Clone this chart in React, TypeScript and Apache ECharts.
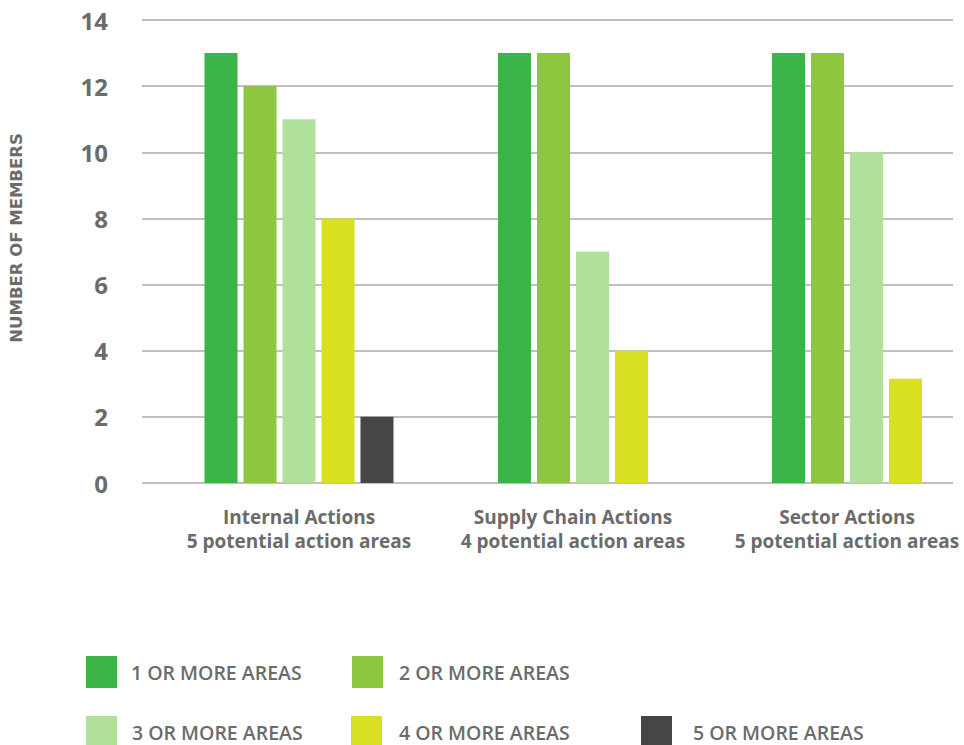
import React, { useEffect, useRef } from "react";
import * as echarts from "echarts";

const categories = ["Internal Actions", "Supply Chain Actions", "Sector Actions"];
const subtitles = ["5 potential action areas", "4 potential action areas", "5 potential action areas"];
const seriesNames = [
  "1 OR MORE AREAS",
  "2 OR MORE AREAS",
  "3 OR MORE AREAS",
  "4 OR MORE AREAS",
  "5 OR MORE AREAS",
];
const oneOrMore = [13, 13, 13];
const twoOrMore = [12, 13, 13];
const threeOrMore = [11, 7, 10];
const fourOrMore = [8, 4, 3.15];
const fiveOrMore: (number | null)[] = [2, null, null];
const yTicks = [0, 2, 4, 6, 8, 10, 12, 14];

const colors = ["#3bb44a", "#8dc63f", "#b0e19c", "#d9e021", "#464646"];
const allSeries = [oneOrMore, twoOrMore, threeOrMore, fourOrMore, fiveOrMore];

export default function App() {
  const ref = useRef<HTMLDivElement>(null);
  useEffect(() => {
    if (!ref.current) return;
    const chart = echarts.init(ref.current, null, { renderer: "svg" });
    const groupCounts = categories.map((_, ci) =>
      allSeries.filter((s) => s[ci] != null).length
    );
    const slotIndex = (si: number, ci: number) =>
      allSeries.slice(0, si).filter((s) => s[ci] != null).length;

    const legendPos = [
      { left: 86, top: 656, pad: 9 },
      { left: 352, top: 656, pad: 11 },
      { left: 86, top: 716, pad: 10 },
      { left: 351, top: 716, pad: 12 },
      { left: 641, top: 716, pad: 16 },
    ];

    const font = "'Open Sans', 'Liberation Sans', sans-serif";

    chart.setOption({
      animation: false,
      textStyle: { fontFamily: font },
      grid: [
        { left: 139, top: 20, width: 814, height: 463 },
        { left: 299, top: 20, width: 548, height: 463 },
      ],
      xAxis: [
        { gridIndex: 0, type: "value", show: false, min: 0, max: 1 },
        {
          gridIndex: 1,
          type: "category",
          boundaryGap: false,
          data: categories.map((c, i) => c + "\n" + subtitles[i]),
          axisLine: { show: false },
          axisTick: { show: false },
          splitLine: { show: false },
          axisLabel: {
            interval: 0,
            hideOverlap: false,
            margin: 22,
            color: "#6b6b6b",
            fontSize: 19,
            fontWeight: "bold",
            lineHeight: 24,
            fontFamily: font,
          },
        },
      ],
      yAxis: [
        {
          gridIndex: 0,
          type: "value",
          min: 0,
          max: 14,
          interval: 2,
          name: "NUMBER OF MEMBERS",
          nameLocation: "middle",
          nameGap: 117,
          nameTextStyle: {
            color: "#6b6b6b",
            fontSize: 16.5,
            fontWeight: "bold",
            fontFamily: "'DejaVu Sans', sans-serif",
            padding: [0, 0, 0, 27],
          },
          axisLine: { show: false },
          axisTick: { show: false },
          axisLabel: {
            margin: 34,
            color: "#6b6b6b",
            fontSize: 24,
            fontWeight: "bold",
            fontFamily: font,
            padding: [5, 0, 0, 0],
            formatter: (v: number) => (yTicks.includes(v) ? String(v) : ""),
          },
          splitLine: { lineStyle: { color: "#ababab", width: 1.5 } },
        },
        { gridIndex: 1, type: "value", min: 0, max: 14, interval: 2, show: false, splitLine: { show: false } },
      ],
      legend: seriesNames.map((name, i) => ({
        data: [name],
        left: legendPos[i].left,
        top: legendPos[i].top,
        itemWidth: 31,
        itemHeight: 32,
        icon: "rect",
        padding: 0,
        selectedMode: false,
        textStyle: {
          color: "#6b6b6b",
          fontSize: 19.5,
          fontWeight: 600,
          fontFamily: font,
          padding: [0, 0, 0, legendPos[i].pad],
        },
      })),
      series: allSeries.map((vals, si) => ({
        name: seriesNames[si],
        type: "custom",
        xAxisIndex: 1,
        yAxisIndex: 1,
        itemStyle: { color: colors[si] },
        encode: { x: 0, y: 1 },
        data: vals
          .map((v, ci) => (v == null ? null : [ci, v]))
          .filter((d) => d != null),
        renderItem: (params: any, api: any) => {
          const ci = api.value(0);
          const val = api.value(1);
          const base = api.coord([ci, 0]);
          const top = api.coord([ci, val]);
          const band = api.size([1, 0])[0];
          const barW = band * 0.1205;
          const pitch = band * 0.1423;
          const n = groupCounts[ci];
          const slot = slotIndex(si, ci);
          const cx = base[0] + (slot - (n - 1) / 2) * pitch;
          return {
            type: "rect",
            shape: { x: cx - barW / 2, y: top[1], width: barW, height: base[1] - top[1] },
            style: api.style(),
          };
        },
      })),
    });
    return () => chart.dispose();
  }, []);
  return (
    <div
      ref={ref}
      style={{ position: "absolute", left: 0, top: 0, width: 964, height: 745, background: "#fff" }}
    />
  );
}
